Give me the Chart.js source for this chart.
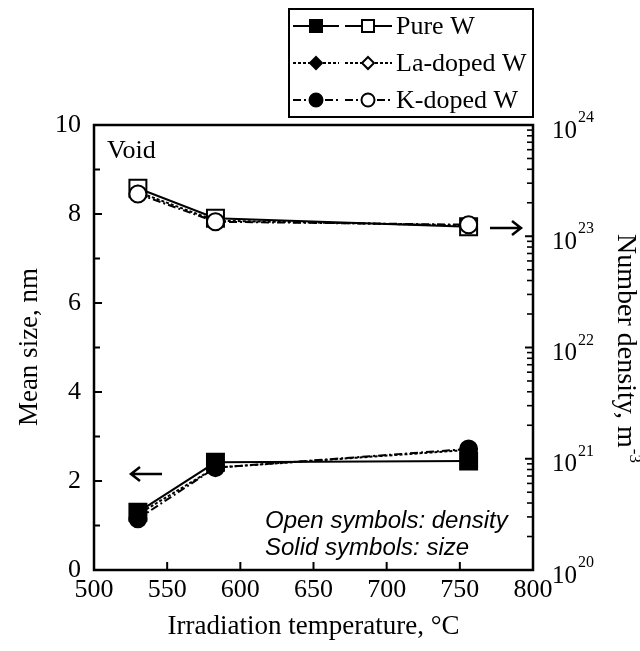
<!DOCTYPE html>
<html><head><meta charset="utf-8">
<script src="https://cdn.jsdelivr.net/npm/chart.js@4/dist/chart.umd.min.js"></script>
<style>html,body{margin:0;padding:0;background:#fff}#wrap{width:640px;height:651px;position:relative}</style>
</head><body><div id="wrap"><canvas id="c" width="640" height="651"></canvas></div>
<script>
const temperatures = [530, 583, 756];
const sizePureW = [1.30, 2.42, 2.45];
const sizeLaW = [1.25, 2.30, 2.70];
const sizeKW = [1.15, 2.30, 2.72];
const densityPureW = [2.7e23, 1.45e23, 1.22e23];
const densityLaW = [2.5e23, 1.38e23, 1.25e23];
const densityKW = [2.4e23, 1.35e23, 1.27e23];
const seriesNames = ['Pure W', 'La-doped W', 'K-doped W'];
const xTickValues = [500, 550, 600, 650, 700, 750, 800];
const sizeTickValues = [0, 2, 4, 6, 8, 10];
const densityDecades = [20, 21, 22, 23, 24];

const SERIF = '"Liberation Serif", "Times New Roman", serif';
const SANS = '"Liberation Sans", Arial, sans-serif';
const styles = [
  {pointStyle: 'rect', radius: 12, legendR: 8.5, dash: []},
  {pointStyle: 'rectRot', radius: 6, legendR: 6, dash: [3, 2]},
  {pointStyle: 'circle', radius: 8.5, legendR: 6.5, dash: [8, 3, 2, 3]}
];
function pts(ys) { return temperatures.map((t, i) => ({x: t, y: ys[i]})); }
function ds(label, ys, st, axis, filled, order) {
  return {
    label, data: pts(ys), yAxisID: axis, showLine: true,
    borderColor: '#000', borderWidth: 2, borderDash: st.dash,
    pointStyle: st.pointStyle, pointRadius: st.radius, pointHoverRadius: st.radius,
    pointBackgroundColor: filled ? '#000' : '#fff', pointBorderColor: '#000', pointBorderWidth: 2,
    order, clip: false
  };
}
const sizeSeries = [sizePureW, sizeLaW, sizeKW];
const densSeries = [densityPureW, densityLaW, densityKW];
const datasets = [];
for (let i = 2; i >= 0; i--) {
  datasets.push(ds(seriesNames[i] + ' size', sizeSeries[i], styles[i], 'y', true, 10 - i * 2));
  datasets.push(ds(seriesNames[i] + ' density', densSeries[i], styles[i], 'y2', false, 11 - i * 2));
}

function marker(ctx, style, x, y, r, filled) {
  ctx.beginPath();
  if (style === 'rect') { const s = r * Math.SQRT1_2; ctx.rect(x - s, y - s, 2 * s, 2 * s); }
  else if (style === 'rectRot') { ctx.moveTo(x, y - r); ctx.lineTo(x + r, y); ctx.lineTo(x, y + r); ctx.lineTo(x - r, y); ctx.closePath(); }
  else ctx.arc(x, y, r, 0, Math.PI * 2);
  ctx.fillStyle = filled ? '#000' : '#fff'; ctx.fill();
  ctx.setLineDash([]); ctx.lineWidth = 2; ctx.strokeStyle = '#000'; ctx.stroke();
}

const frame = {
  id: 'frame',
  beforeDatasetsDraw(chart) {
    const ctx = chart.ctx, a = chart.chartArea;
    const sx = chart.scales.x, sy = chart.scales.y, sd = chart.scales.y2;
    ctx.save();
    ctx.strokeStyle = '#000'; ctx.lineWidth = 2;
    xTickValues.forEach(v => { const px = sx.getPixelForValue(v); ctx.beginPath(); ctx.moveTo(px, a.bottom); ctx.lineTo(px, a.bottom - 8); ctx.stroke(); });
    for (let v = 0; v <= 10; v++) { const py = sy.getPixelForValue(v); const L = v % 2 === 0 ? 8 : 6; ctx.beginPath(); ctx.moveTo(a.left, py); ctx.lineTo(a.left + L, py); ctx.stroke(); }
    densityDecades.forEach((d, i) => {
      for (let m = 1; m <= 9; m++) {
        if (i === densityDecades.length - 1 && m > 1) break;
        const py = sd.getPixelForValue(m * Math.pow(10, d));
        const L = m === 1 ? 8 : 6;
        ctx.lineWidth = m === 1 ? 2 : 1.6;
        ctx.beginPath(); ctx.moveTo(a.right, py); ctx.lineTo(a.right - L, py); ctx.stroke();
      }
    });
    ctx.lineWidth = 2.5;
    ctx.strokeRect(a.left, a.top, a.right - a.left, a.bottom - a.top);
    ctx.restore();
  },
  afterDraw(chart) {
    const ctx = chart.ctx, a = chart.chartArea, sd = chart.scales.y2;
    ctx.save();
    ctx.fillStyle = '#000'; ctx.strokeStyle = '#000';
    densityDecades.forEach(d => {
      const py = sd.getPixelForValue(Math.pow(10, d));
      ctx.font = '25px ' + SERIF; ctx.textAlign = 'left'; ctx.textBaseline = 'middle';
      ctx.fillText('10', a.right + 19, py + 6);
      const w = ctx.measureText('10').width;
      ctx.font = '16px ' + SERIF;
      ctx.fillText(String(d), a.right + 19 + w + 1, py - 7);
    });
    ctx.font = '27px ' + SERIF; ctx.textAlign = 'center'; ctx.textBaseline = 'middle';
    ctx.fillText('Irradiation temperature, \u00B0C', (a.left + a.right) / 2, 627);
    ctx.save(); ctx.translate(30, 347); ctx.rotate(-Math.PI / 2); ctx.fillText('Mean size, nm', 0, 0); ctx.restore();
    ctx.save(); ctx.translate(625, 348); ctx.rotate(Math.PI / 2);
    ctx.font = '28px ' + SERIF; ctx.textAlign = 'left';
    const main = 'Number density, m', wm = ctx.measureText(main).width;
    ctx.font = '17px ' + SERIF; const ws = ctx.measureText('-3').width;
    const start = -(wm + ws) / 2;
    ctx.font = '28px ' + SERIF; ctx.fillText(main, start, 0);
    ctx.font = '17px ' + SERIF; ctx.fillText('-3', start + wm + 1, -9);
    ctx.restore();
    ctx.font = '26px ' + SERIF; ctx.textAlign = 'left'; ctx.textBaseline = 'middle';
    ctx.fillText('Void', a.left + 13, a.top + 26);
    ctx.font = 'italic 24px ' + SANS;
    ctx.fillText('Open symbols: density', 265, 521);
    ctx.fillText('Solid symbols: size', 265, 548);
    ctx.lineWidth = 2.5; ctx.setLineDash([]);
    function arrow(x1, y, x2) {
      const d = x2 > x1 ? -1 : 1;
      ctx.beginPath(); ctx.moveTo(x1, y); ctx.lineTo(x2, y);
      ctx.moveTo(x2 + d * 9, y - 7); ctx.lineTo(x2, y); ctx.lineTo(x2 + d * 9, y + 7); ctx.stroke();
    }
    arrow(490, 228, 521);
    arrow(162, 474, 131);
    ctx.lineWidth = 2; ctx.strokeRect(289, 9, 244, 108);
    const rows = [26, 63, 100];
    rows.forEach((ry, i) => {
      const st = styles[i];
      ctx.setLineDash(st.dash); ctx.lineWidth = 2;
      ctx.beginPath(); ctx.moveTo(293, ry); ctx.lineTo(339, ry); ctx.moveTo(345, ry); ctx.lineTo(392, ry); ctx.stroke();
      marker(ctx, st.pointStyle, 316, ry, st.legendR, true);
      marker(ctx, st.pointStyle, 368, ry, st.legendR, false);
      ctx.fillStyle = '#000'; ctx.font = '26px ' + SERIF; ctx.textAlign = 'left'; ctx.textBaseline = 'middle';
      ctx.fillText(seriesNames[i], 396, ry + 1);
    });
    ctx.restore();
  }
};

const tickFont = {family: SERIF, size: 26};
new Chart(document.getElementById('c'), {
  type: 'scatter',
  data: {datasets},
  options: {
    responsive: false, animation: false, devicePixelRatio: 1,
    layout: {padding: {top: 125, left: 0, right: 0, bottom: 0}, autoPadding: false},
    plugins: {legend: {display: false}, tooltip: {enabled: false}},
    scales: {
      x: {type: 'linear', min: 500, max: 800,
        afterBuildTicks: s => { s.ticks = xTickValues.map(v => ({value: v})); },
        ticks: {font: tickFont, color: '#000', padding: 5, maxRotation: 0, autoSkip: false},
        grid: {display: false, drawTicks: false}, border: {display: false},
        afterFit: s => { s.height = 81; }},
      y: {type: 'linear', position: 'left', min: 0, max: 10,
        afterBuildTicks: s => { s.ticks = sizeTickValues.map(v => ({value: v})); },
        ticks: {font: tickFont, color: '#000', padding: 13, autoSkip: false},
        grid: {display: false, drawTicks: false}, border: {display: false},
        afterFit: s => { s.width = 94; }},
      y2: {type: 'logarithmic', position: 'right', min: 1e20, max: 1e24,
        ticks: {display: false},
        grid: {display: false, drawTicks: false}, border: {display: false},
        afterFit: s => { s.width = 107; }}
    }
  },
  plugins: [frame]
});
</script></body></html>
